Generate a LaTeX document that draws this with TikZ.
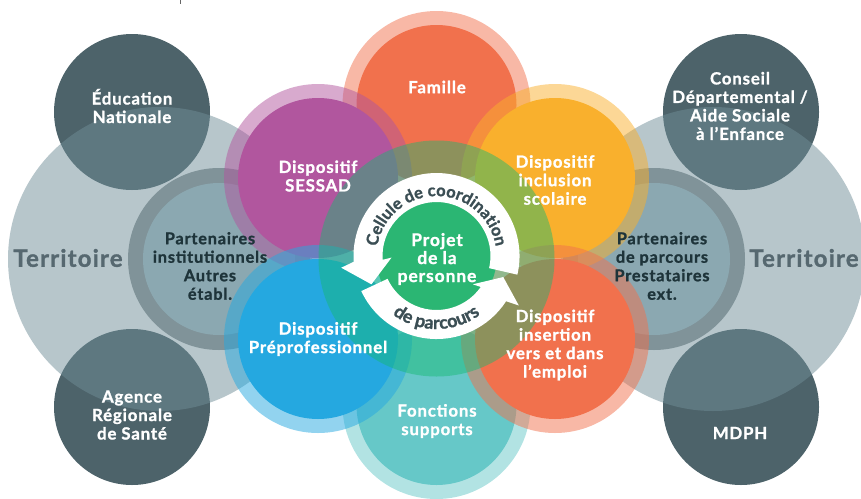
\documentclass[tikz,border=0pt]{standalone}
\usepackage{fontspec}
\setmainfont{Lato}[LetterSpace=5,BoldFeatures={FakeBold=1.2}]
\newfontfamily\arcfont{Lato}[BoldFeatures={FakeBold=1.2}]
\usetikzlibrary{decorations.text}
\definecolor{darkc}{RGB}{77,99,106}
\definecolor{terrc}{RGB}{111,141,151}
\definecolor{partring}{RGB}{128,147,153}
\definecolor{partin}{RGB}{139,168,177}
\definecolor{partxt}{RGB}{30,52,58}
\definecolor{terrtxt}{RGB}{86,104,112}
\definecolor{famc}{RGB}{241,113,77}
\definecolor{sesc}{RGB}{177,86,158}
\definecolor{incc}{RGB}{249,176,45}
\definecolor{fonc}{RGB}{102,200,200}
\definecolor{prec}{RGB}{37,168,224}
\definecolor{cgreen}{RGB}{20,185,112}
\definecolor{pgreen}{RGB}{43,182,115}
\definecolor{arctxt}{RGB}{59,78,84}
\newcommand\petal[3]{%
  \fill[#3,opacity=0.5] (#1,#2) circle[radius=94];
  \fill[#3] (#1,#2) circle[radius=80];}
\begin{document}
\begin{tikzpicture}[x=1pt,y=1pt,
  lbl/.style={font=\bfseries\fontsize{16.8}{18.5}\selectfont, align=center, text=white, inner sep=0pt},
  dlbl/.style={lbl, text=partxt, font=\bfseries\fontsize{16.3}{18.5}\selectfont},
  terrtext/.style={font=\bfseries\fontsize{24}{30}\selectfont, text=terrtxt, inner sep=0pt}]
\useasboundingbox (0,0) rectangle (861,-498);
\clip (0,0) rectangle (861,-498);
% tiny tick
\draw[black!60, line width=0.8pt] (180,0) -- (180,-4);
% dark circles
\fill[darkc] (132,-112) circle[radius=78];
\fill[darkc] (741,-112) circle[radius=78];
\fill[darkc] (132,-407) circle[radius=78];
\fill[darkc] (741,-407) circle[radius=78];
% territoire
\fill[terrc,opacity=0.5] (160,-259) circle[radius=152];
\fill[terrc,opacity=0.5] (713,-259) circle[radius=152];
% partenaires
\fill[partring] (219,-259) circle[radius=91];
\fill[partin] (219,-259) circle[radius=76];
\fill[partring] (654,-259) circle[radius=91];
\fill[partin] (654,-259) circle[radius=76];
% petals
\petal{436.5}{-105}{famc}
\petal{436.5}{-405}{fonc}
\petal{318}{-178}{sesc}
\petal{555}{-178}{incc}
\petal{318}{-339}{prec}
\petal{555}{-339}{famc}
% central
\fill[cgreen,opacity=0.45] (436.5,-258.5) circle[radius=118];
\fill[pgreen] (436.5,-258) circle[radius=60];
\begin{scope}[shift={(436.5,-256)}]
\fill[white] (-13:83) arc[start angle=-13,end angle=184,radius=83]
  -- (187:96) -- (203.5:71) -- (182:45) -- (184:54)
  arc[start angle=184,end angle=-13,radius=54] -- cycle;
\fill[white] (205:83) arc[start angle=205,end angle=327,radius=83]
  -- (329:96) -- (342.5:70) -- (322:46) -- (325:54)
  arc[start angle=325,end angle=205,radius=54] -- cycle;
\path[decorate,decoration={text along path,text align=center,text color=arctxt,
  text={|\arcfont\bfseries\fontsize{16.5}{16.5}\selectfont|Cellule de coordination}}]
  (180:60) arc[start angle=180,end angle=0,radius=60];
\path[decorate,decoration={text along path,text align=center,text color=arctxt,
  text={|\arcfont\bfseries\fontsize{18}{18}\selectfont|de parcours}}]
  (200:73) arc[start angle=200,end angle=340,radius=73];
\end{scope}
% texts
\node[lbl] (edu) at (132,-106) {Éducation\\Nationale};
\node[lbl] (cd) at (740,-106) {Conseil\\Départemental /\\Aide Sociale\\à l’Enfance};
\node[lbl] (ars) at (132,-415) {Agence\\Régionale\\de Santé};
\node[lbl] (mdph) at (740,-433) {MDPH};
\node[terrtext] (tl) at (68,-258) {Territoire};
\node[terrtext] (tr) at (804,-258) {Territoire};
\node[dlbl] (pl) at (210,-266) {Partenaires\\institutionnels\\Autres\\établ.};
\node[dlbl] (pr) at (662,-266) {Partenaires\\de parcours\\Prestataires\\ext.};
\node[lbl] (fam) at (437,-87) {Famille};
\node[lbl] (sess) at (318,-176) {Dispositif\\SESSAD};
\node[lbl] (incl) at (555,-180) {Dispositif\\inclusion\\scolaire};
\node[lbl] (prep) at (318,-339) {Dispositif\\Préprofessionnel};
\node[lbl] (ins) at (555,-345) {Dispositif\\insertion\\vers et dans\\l’emploi};
\node[lbl] (fon) at (437,-421) {Fonctions\\supports};
\node[lbl,font=\bfseries\fontsize{17.5}{18}\selectfont] (proj) at (437,-259) {Projet\\de la\\personne};
\end{tikzpicture}
\end{document}
